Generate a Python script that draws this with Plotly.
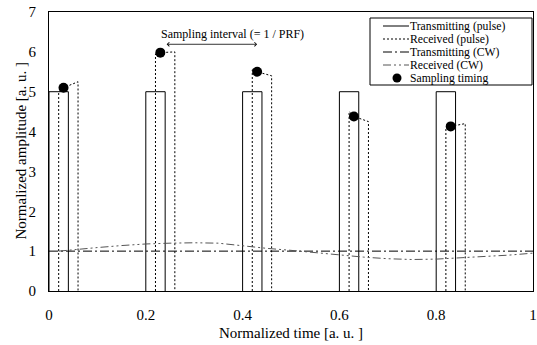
import plotly.graph_objects as go

# ---------------- data ----------------
time_ticks = [0, 0.2, 0.4, 0.6, 0.8, 1.0]
time_tick_labels = ["0", "0.2", "0.4", "0.6", "0.8", "1"]
amp_ticks = [0, 1, 2, 3, 4, 5, 6, 7]

tx_pulse_start = [0.0, 0.2, 0.4, 0.6, 0.8]
tx_pulse_end = [0.04, 0.24, 0.44, 0.64, 0.84]
tx_pulse_amp = [5, 5, 5, 5, 5]

rx_pulse_start = [0.02, 0.22, 0.42, 0.62, 0.82]
rx_pulse_end = [0.06, 0.26, 0.46, 0.66, 0.86]
rx_pulse_top_start = [5.0, 5.95, 5.55, 4.5, 4.1]
rx_pulse_top_end = [5.25, 6.0, 5.4, 4.25, 4.2]

sample_time = [0.03, 0.23, 0.43, 0.63, 0.83]
sample_amp = [5.1, 5.98, 5.5, 4.38, 4.13]

cw_tx_time = [0.0, 1.0]
cw_tx_amp = [1.0, 1.0]

cw_rx_time = [0.02, 0.06, 0.10, 0.15, 0.20, 0.25, 0.30, 0.35, 0.40, 0.45, 0.50,
              0.55, 0.60, 0.65, 0.70, 0.75, 0.80, 0.85, 0.90, 0.95, 1.00]
cw_rx_amp = [1.0, 1.05, 1.09, 1.14, 1.18, 1.20, 1.21, 1.20, 1.13, 1.07, 1.02,
             0.96, 0.90, 0.85, 0.81, 0.79, 0.80, 0.83, 0.86, 0.90, 0.95]

arrow_from = 0.24
arrow_to = 0.43
arrow_level = 6.19

legend_names = ["Transmitting (pulse)", "Received (pulse)", "Transmitting (CW)",
                "Received (CW)", "Sampling timing"]
x_title = "Normalized time [a. u. ]"
y_title = "Normalized amplitude [a. u. ]"

# ---------------- style ----------------
FONT = "Liberation Serif"
W, H = 537, 345
ML, MR, MT, MB = 49, 4, 12, 54
DOT = "2px,2px"
DASHDOT = "9px,3px,2px,3px"
DASHDOTDOT = "8px,3px,2px,3px,2px,3px"
RX_CW_COLOR = "#555555"

# build pulse paths (data coordinates with gaps)
tx_x, tx_y = [], []
for s, e, a in zip(tx_pulse_start, tx_pulse_end, tx_pulse_amp):
    tx_x += [s, s, e, e, None]
    tx_y += [0, a, a, 0, None]

rx_x, rx_y = [], []
for s, e, ts, te, st, sa in zip(rx_pulse_start, rx_pulse_end, rx_pulse_top_start,
                                rx_pulse_top_end, sample_time, sample_amp):
    rx_x += [s, s, st, e, e, None]
    rx_y += [0, ts, sa, te, 0, None]

fig = go.Figure()
fig.add_trace(go.Scatter(x=tx_x, y=tx_y, mode="lines", name=legend_names[0],
                         line=dict(color="black", width=1), showlegend=False))
fig.add_trace(go.Scatter(x=rx_x, y=rx_y, mode="lines", name=legend_names[1],
                         line=dict(color="black", width=1, dash=DOT), showlegend=False))
fig.add_trace(go.Scatter(x=cw_tx_time, y=cw_tx_amp, mode="lines", name=legend_names[2],
                         line=dict(color="black", width=1, dash=DASHDOT), showlegend=False))
fig.add_trace(go.Scatter(x=cw_rx_time, y=cw_rx_amp, mode="lines", name=legend_names[3],
                         line=dict(color=RX_CW_COLOR, width=1, dash=DASHDOTDOT), showlegend=False))
fig.add_trace(go.Scatter(x=sample_time, y=sample_amp, mode="markers", name=legend_names[4],
                         marker=dict(color="black", size=10), showlegend=False))

# double arrow for sampling interval
fig.add_annotation(x=arrow_to, y=arrow_level, ax=arrow_from, ay=arrow_level,
                   xref="x", yref="y", axref="x", ayref="y", text="",
                   showarrow=True, arrowhead=4, startarrowhead=4, arrowside="end+start",
                   arrowsize=1, arrowwidth=0.8, arrowcolor="black", standoff=0, startstandoff=0)
fig.add_annotation(x=(arrow_from + arrow_to) / 2 + 0.045, y=arrow_level + 0.25, xref="x", yref="y",
                   text="Sampling interval (= 1 / PRF)", showarrow=False,
                   font=dict(family=FONT, size=12, color="black"))

# custom compact legend (pixel layout converted to paper coords)
PW = W - ML - MR
PH = H - MT - MB


def px2paper(px, py):
    return (px - ML) / PW, (H - MB - py) / PH


bx0, by0 = px2paper(370, 85)
bx1, by1 = px2paper(532, 18)
fig.add_shape(type="rect", xref="paper", yref="paper", x0=bx0, y0=by0, x1=bx1, y1=by1,
              line=dict(color="black", width=1), fillcolor="white", layer="above")
row_y = [26.0, 39.0, 52.0, 65.0, 78.0]
styles = [("black", "solid"), ("black", DOT), ("black", DASHDOT), (RX_CW_COLOR, DASHDOTDOT)]
for i, (c, d) in enumerate(styles):
    lx0, ly = px2paper(383, row_y[i])
    lx1, _ = px2paper(409, row_y[i])
    fig.add_shape(type="line", xref="paper", yref="paper", x0=lx0, x1=lx1, y0=ly, y1=ly,
                  line=dict(color=c, width=1, dash=d), layer="above")
cx, cy = px2paper(397, row_y[4])
fig.add_shape(type="circle", xref="paper", yref="paper", xsizemode="pixel", ysizemode="pixel",
              xanchor=cx, yanchor=cy, x0=-4.5, x1=4.5, y0=-4.5, y1=4.5,
              fillcolor="black", line=dict(color="black", width=0), layer="above")
for i, name in enumerate(legend_names):
    tx, ty = px2paper(410, row_y[i])
    fig.add_annotation(x=tx, y=ty, xref="paper", yref="paper", text=name, showarrow=False,
                       xanchor="left", yanchor="middle", borderpad=0, borderwidth=0,
                       font=dict(family=FONT, size=11.7, color="black"))

# axis titles as annotations
ytx, _ = px2paper(20, 0)
fig.add_annotation(x=ytx, y=0.5, xref="paper", yref="paper", text=y_title, textangle=-90,
                   showarrow=False, xanchor="center", yanchor="middle",
                   font=dict(family=FONT, size=15, color="black"))
_, xty = px2paper(0, 333)
fig.add_annotation(x=0.5, y=xty, xref="paper", yref="paper", text=x_title,
                   showarrow=False, xanchor="center", yanchor="middle",
                   font=dict(family=FONT, size=15, color="black"))

fig.update_layout(
    width=W, height=H,
    margin=dict(l=ML, r=MR, t=MT, b=MB, autoexpand=False),
    paper_bgcolor="white", plot_bgcolor="white",
    font=dict(family=FONT, size=15, color="black"),
    showlegend=False,
    xaxis=dict(range=[0, 1], tickvals=time_ticks, ticktext=time_tick_labels,
               showline=True, mirror=True, linecolor="black", linewidth=1,
               showgrid=False, zeroline=False, ticks="", ticklabelstandoff=10,
               ticklabeloverflow="allow", automargin=False),
    yaxis=dict(range=[0, 7], tickvals=amp_ticks,
               showline=True, mirror=True, linecolor="black", linewidth=1,
               showgrid=False, zeroline=False, ticks="", ticklabelstandoff=9,
               ticklabeloverflow="allow", automargin=False),
)

fig.write_html("out.html", config={"displayModeBar": False},
               post_script="document.body.style.margin='0';document.body.style.overflow='hidden';")
